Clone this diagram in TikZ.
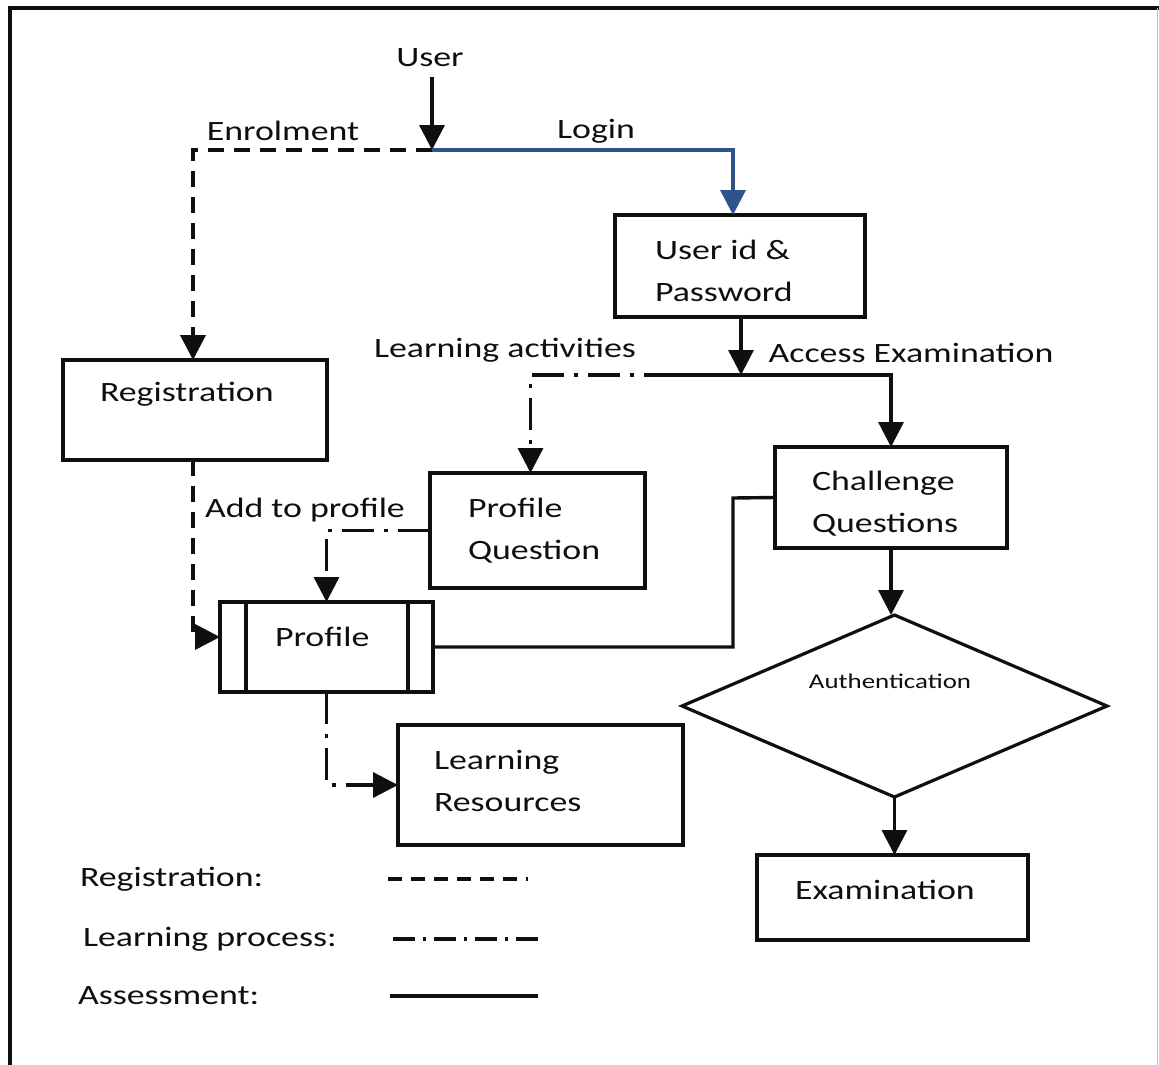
\documentclass[tikz,border=0pt]{standalone}
\usepackage{fontspec}
\setmainfont[FakeStretch=1.28]{Carlito}
\usetikzlibrary{arrows.meta,shapes.geometric,calc}

\definecolor{loginblue}{RGB}{46,84,140}
\definecolor{ink}{RGB}{15,15,15}

\begin{document}
\begin{tikzpicture}[x=1pt,y=-1pt,
  every node/.style={inner sep=0pt, outer sep=0pt},
  txt/.style={font=\fontsize{28}{42}\selectfont, text=ink, align=left},
  smalltxt/.style={font=\fontsize{21}{26}\selectfont, text=ink},
  box/.style={draw=ink, line width=3.2pt, rectangle},
  conn/.style={draw=ink, line width=3.4pt},
  arrowhd/.style={-{Triangle[width=25pt,length=25pt]}},
  regline/.style={conn, line width=3.8pt, dash pattern=on 16pt off 10pt},
  learnline/.style={conn, dash pattern=on 32pt off 10pt on 4pt off 10pt},
  assessline/.style={conn},
  loginline/.style={draw=loginblue, line width=3.8pt}
]
\useasboundingbox (0,0) rectangle (1159,1065);

% frame
\draw[line width=4pt, ink] (10,1065) -- (10,8) -- (1159,8);
\draw[line width=1.2pt, black!25] (1157.5,8) -- (1157.5,1065);

% ---- boxes ----
\node[box, minimum width=250pt, minimum height=102pt] (uid)  at (740,266) {};
\node[box, minimum width=264pt, minimum height=100pt] (reg)  at (195,410) {};
\node[box, minimum width=215pt, minimum height=115pt] (pq)   at (537.5,530.5) {};
\node[box, minimum width=232pt, minimum height=101pt] (cq)   at (891,497.5) {};
\node[box, minimum width=213pt, minimum height=90pt]  (prof) at (326.5,647) {};
\node[box, minimum width=285pt, minimum height=120pt] (lr)   at (540.5,785) {};
\node[box, minimum width=271pt, minimum height=85pt]  (exam) at (892.5,897.5) {};
\node[draw=ink, line width=3.2pt, diamond, minimum width=425pt, minimum height=182pt] (auth) at (894.5,706) {};

% side bars of the profile store
\draw[ink, line width=3.2pt] (246,602) -- (246,692);
\draw[ink, line width=3.2pt] (408,602) -- (408,692);

% ---- texts ----
\node[txt] (tuser)  at (430,58) {User};
\node[txt] (tenrol) at (283,131) {Enrolment};
\node[txt] (tlogin) at (596,131) {Login};
\node[txt, anchor=west] (tuid) at (655,271) {User id \&\\Password};
\node[txt] (tlact)  at (505,350) {Learning activities};
\node[txt] (tacc)   at (911,353) {Access Examination};
\node[txt, anchor=west] (treg) at (100,394) {Registration};
\node[txt, anchor=west] (tadd) at (205,510) {Add to profile};
\node[txt, anchor=west] (tpq)  at (468,531) {Profile\\Question};
\node[txt, anchor=west] (tcq)  at (812,504) {Challenge\\Questions};
\node[txt, anchor=west] (tprof) at (275,637) {Profile};
\node[smalltxt] (tauth) at (890,681) {Authentication};
\node[txt, anchor=west] (tlr)  at (434,781) {Learning\\Resources};
\node[txt, anchor=west] (texam) at (795,890) {Examination};

% ---- connectors ----
\coordinate (split) at (432,150);
\coordinate (fork)  at (741,375);
\coordinate (lsplit) at (676,375);
\coordinate (cqbend) at (733,498);

\draw[conn, arrowhd] ([yshift=-10pt]tuser.south -| split) -- (split);
\draw[regline, arrowhd] (split) -| ([xshift=-2pt]reg.north);
\draw[loginline, -{Triangle[width=25pt,length=25pt]}] (split) -| ([xshift=-7pt]uid.north);

\draw[assessline, arrowhd] (uid.south -| fork) -- (fork);
\draw[assessline, arrowhd] (lsplit) -| (cq.north);
\draw[learnline, arrowhd] (lsplit) -| ([xshift=-7pt]pq.north);

\draw[regline, arrowhd] ([xshift=-2pt]reg.south) |- ([yshift=10pt]prof.west);
\draw[learnline, arrowhd] (pq.west) -| (prof.north);
\draw[assessline] (prof.east) -| (cqbend) -- (cq.west);
\draw[learnline, arrowhd] (prof.south) |- (lr.west);

\draw[assessline, arrowhd] (cq.south) -- (cq.south |- auth.north);
\draw[assessline, arrowhd] (auth.south) -- (auth.south |- exam.north);

% ---- legend ----
\node[txt, anchor=west] (lg1) at (80,879) {Registration:};
\node[txt, anchor=west] (lg2) at (83,939) {Learning process:};
\node[txt, anchor=west] (lg3) at (78,996) {Assessment:};
\draw[conn, dash pattern=on 14pt off 9pt] (388,879) -- (528,879);
\draw[conn, dash pattern=on 22pt off 8pt on 3pt off 8pt] (393,939) -- (540,939);
\draw[conn] (390,996) -- (538,996);
\end{tikzpicture}
\end{document}
